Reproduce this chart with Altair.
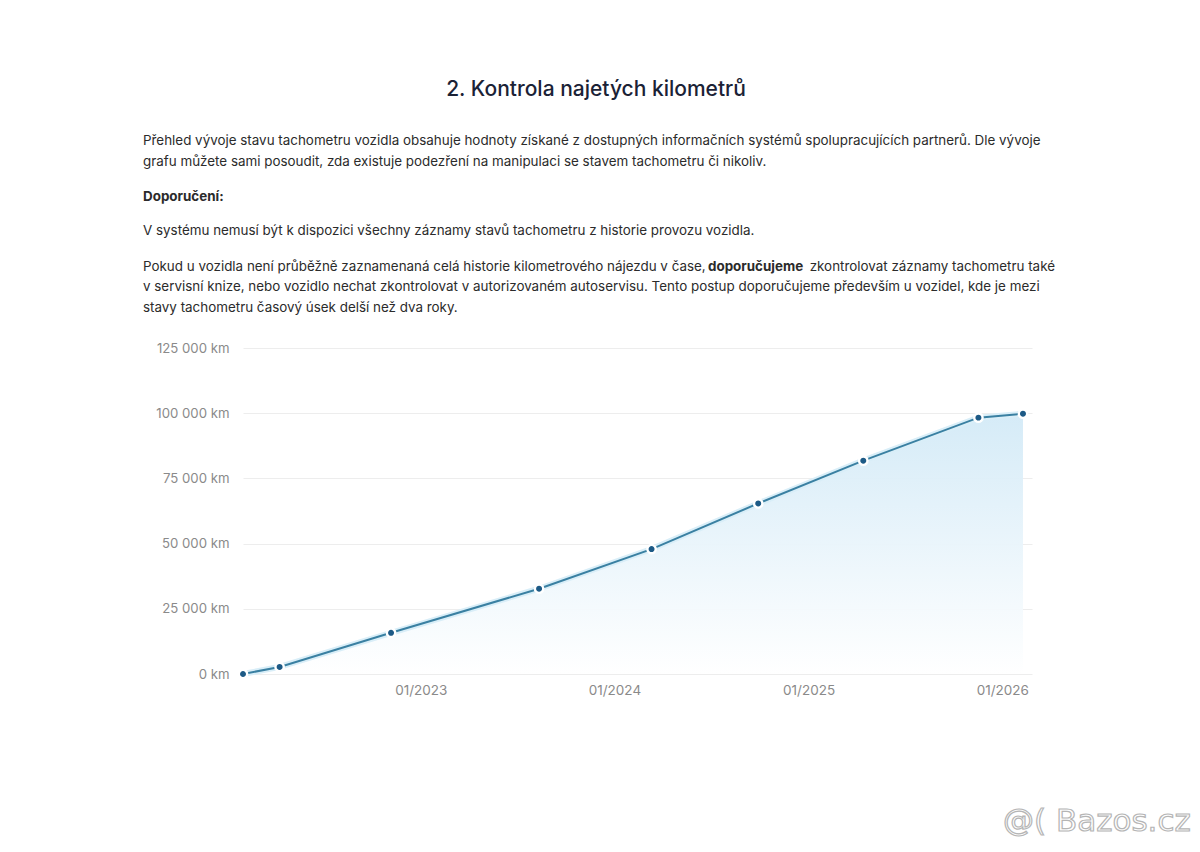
import altair as alt
import pandas as pd

# ---- data ----
dates = ["2022-01-31", "2022-04-10", "2022-11-06", "2023-08-12", "2024-03-11",
         "2024-09-28", "2025-04-14", "2025-11-17", "2026-02-09"]
km = [0, 2700, 15800, 32700, 47900, 65400, 81800, 98300, 99800]
y_ticks = [0, 25000, 50000, 75000, 100000, 125000]
x_tick_years = [2023, 2024, 2025, 2026]

title_text = "2. Kontrola najetých kilometrů"
para_lines = [
    "Přehled vývoje stavu tachometru vozidla obsahuje hodnoty získané z dostupných informačních systémů spolupracujících partnerů. Dle vývoje",
    "grafu můžete sami posoudit, zda existuje podezření na manipulaci se stavem tachometru či nikoliv.",
]
bold_heading = "Doporučení:"
line_note = "V systému nemusí být k dispozici všechny záznamy stavů tachometru z historie provozu vozidla."
line4_a = "Pokud u vozidla není průběžně zaznamenaná celá historie kilometrového nájezdu v čase,"
line4_b = "doporučujeme"
line4_c = "zkontrolovat záznamy tachometru také"
line5 = "v servisní knize, nebo vozidlo nechat zkontrolovat v autorizovaném autoservisu. Tento postup doporučujeme především u vozidel, kde je mezi"
line6 = "stavy tachometru časový úsek delší než dva roky."
watermark = "@( Bazos.cz"

df = pd.DataFrame({"date": pd.to_datetime(dates), "km": km})

W, H = 789, 326
FONT = "Inter"
TXT = "#2b2b2b"
FS = 13.4

x_enc = alt.X(
    "date:T",
    scale=alt.Scale(domain=[alt.DateTime(year=2022, month=1, date=31),
                            alt.DateTime(year=2026, month=2, date=26)], nice=False),
    axis=alt.Axis(values=[alt.DateTime(year=y, month=1, date=1) for y in x_tick_years],
                  format="%m/%Y", title=None, grid=False, domain=False, ticks=False,
                  labelColor="#8a8a8a", labelFontSize=13.5, labelFont=FONT,
                  labelPadding=9, labelAlign="center"),
)
y_enc = alt.Y(
    "km:Q",
    scale=alt.Scale(domain=[0, 125000], nice=False, zero=True),
    axis=alt.Axis(values=y_ticks, title=None, domain=False, ticks=False,
                  labelExpr="replace(format(datum.value, ',d'), ',', ' ') + ' km'",
                  labelColor="#8a8a8a", labelFontSize=13.2, labelFont=FONT,
                  labelPadding=14, gridColor="#ededed", gridWidth=1),
)

base = alt.Chart(df)

area = base.mark_area(
    color=alt.Gradient(
        gradient="linear",
        stops=[alt.GradientStop(color="#ffffff", offset=0),
               alt.GradientStop(color="#d3eaf7", offset=1)],
        x1=1, x2=1, y1=1, y2=0,
    ),
    opacity=0.95,
).encode(x=x_enc, y=y_enc)

halo = base.mark_line(color="#d9eef8", strokeWidth=6).encode(x="date:T", y="km:Q")
line = base.mark_line(color="#3a80a2", strokeWidth=2).encode(x="date:T", y="km:Q")
points = base.mark_point(filled=True, color="#1d5a86", size=70, opacity=1,
                         stroke="white", strokeWidth=2.4).encode(x="date:T", y="km:Q")


def txt(text, x, y, size=FS, weight="normal", color=TXT, align="left", font=FONT, **kw):
    return alt.Chart(pd.DataFrame({"t": [text]})).mark_text(
        align=align, baseline="middle", fontSize=size, fontWeight=weight,
        color=color, font=font, **kw
    ).encode(x=alt.value(x), y=alt.value(y), text="t:N")


X0 = 143 - 243
T0 = 348
texts = [
    txt(title_text, 596 - 243, 90 - T0, size=21, weight=500, color="#1b2236", align="center"),
    txt(para_lines[0], X0, 141 - T0),
    txt(para_lines[1], X0, 162 - T0),
    txt(bold_heading, X0, 197 - T0, weight="bold"),
    txt(line_note, X0, 231 - T0),
    txt(line4_a, X0, 267 - T0),
    txt(line4_b, 708 - 243, 267 - T0, weight="bold"),
    txt(line4_c, 1055 - 243, 267 - T0, align="right"),
    txt(line5, X0, 287 - T0),
    txt(line6, X0, 308 - T0),
    txt(watermark, 1003 - 243, 822 - T0, size=31, color="#ffffff", font="DejaVu Sans",
        stroke="#b5b5b5", strokeWidth=1.2),
]

chart = alt.layer(area, halo, line, points, *texts).properties(
    width=W, height=H,
    autosize=alt.AutoSizeParams(type="none"),
    padding={"left": 243, "top": 348, "right": 1200 - 243 - W, "bottom": 852 - 348 - H},
    background="white",
).configure_view(stroke=None)

chart.save("out.html", embed_options={"renderer": "svg", "actions": False})
